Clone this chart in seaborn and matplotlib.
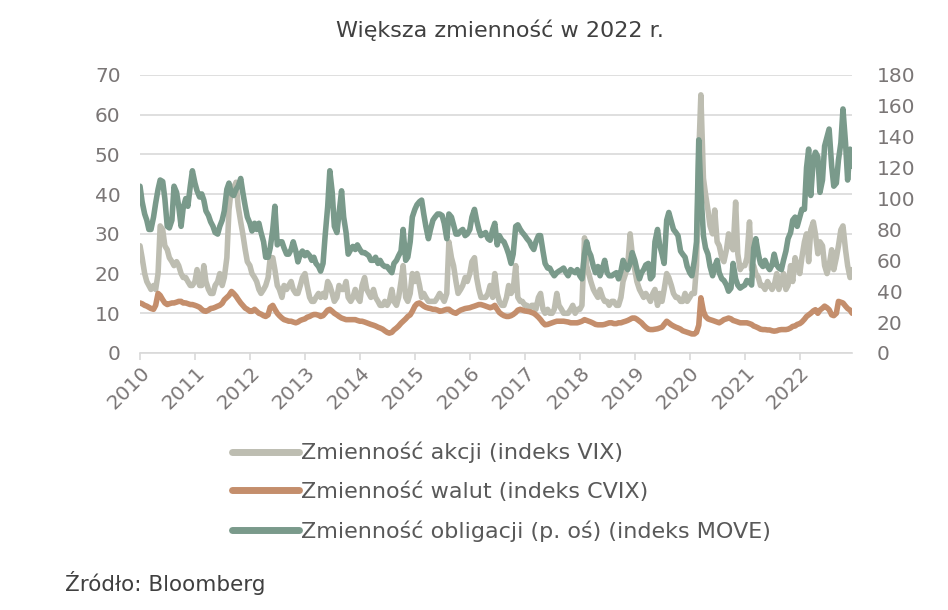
import pandas as pd
import seaborn as sns
import matplotlib.pyplot as plt
import matplotlib.dates as mdates
from matplotlib.lines import Line2D

# dane co pół miesiąca (1. i 15. dzień), 2010-2022
daty = pd.date_range('2010-01-01', '2022-12-31', freq='SMS')

vix = [
    27, 24, 20, 18, 17, 16, 17, 16, 20, 32, 31, 27, 26, 24, 23, 22, 23, 22, 20, 19, 19, 18, 17, 17,  # 2010
    18, 21, 17, 17, 22, 18, 16, 15, 15, 17, 18, 20, 17, 19, 24, 36, 42, 41, 43, 37, 33, 30, 26, 23,  # 2011
    22, 20, 19, 18, 16, 15, 16, 17, 19, 24, 24, 21, 17, 16, 14, 17, 16, 17, 18, 16, 15, 15, 17, 19,  # 2012
    20, 17, 14, 13, 13, 14, 15, 14, 15, 14, 18, 17, 15, 13, 14, 17, 16, 16, 18, 14, 13, 14, 16, 14,  # 2013
    13, 17, 19, 16, 15, 14, 16, 14, 13, 12, 12, 13, 12, 13, 16, 13, 12, 14, 18, 22, 14, 13, 15, 20,  # 2014
    18, 20, 17, 14, 15, 14, 13, 13, 13, 13, 14, 15, 14, 13, 15, 28, 24, 22, 18, 15, 16, 17, 19, 18,  # 2015
    20, 23, 24, 19, 16, 14, 14, 14, 15, 17, 14, 20, 15, 13, 12, 12, 14, 17, 15, 16, 22, 14, 13, 13,  # 2016
    12, 12, 11, 12, 12, 11, 14, 15, 11, 10, 11, 10, 10, 11, 15, 12, 11, 10, 10, 10, 11, 12, 10, 11,  # 2017
    11, 12, 29, 22, 20, 18, 16, 15, 14, 16, 14, 13, 13, 12, 13, 13, 12, 12, 14, 18, 20, 22, 30, 25,  # 2018
    21, 18, 16, 15, 14, 15, 14, 13, 15, 16, 12, 15, 13, 16, 20, 19, 17, 15, 14, 14, 13, 13, 15, 13,  # 2019
    14, 15, 15, 22, 50, 65, 44, 40, 36, 32, 30, 36, 28, 27, 24, 23, 26, 30, 27, 26, 38, 25, 21, 22,  # 2020
    22, 24, 33, 21, 22, 20, 19, 17, 17, 16, 18, 17, 16, 17, 20, 16, 18, 20, 16, 17, 22, 18, 24, 22,  # 2021
    20, 24, 28, 30, 23, 31, 33, 30, 25, 28, 27, 22, 20, 22, 26, 21, 24, 27, 31, 32, 26, 22, 19, 21,  # 2022
]

cvix = [
    12.6, 12.4, 12.0, 11.8, 11.5, 11.2, 11.0, 12.0, 15.0, 14.5, 13.4, 12.6, 12.2, 12.4, 12.6, 12.6, 12.8, 13.0, 13.0, 12.6, 12.6, 12.4, 12.2, 12.2,  # 2010
    12.0, 11.8, 11.5, 11.0, 10.6, 10.5, 10.8, 11.2, 11.3, 11.5, 11.8, 12.0, 12.5, 13.4, 14.0, 14.5, 15.5, 15.0, 14.3, 13.5, 12.6, 12.0, 11.3, 11.0,  # 2011
    10.5, 10.5, 11.0, 10.5, 10.0, 9.8, 9.4, 9.2, 9.6, 11.5, 12.0, 11.0, 10.0, 9.4, 8.8, 8.4, 8.2, 8.0, 8.0, 7.8, 7.6, 7.8, 8.2, 8.4,  # 2012
    8.6, 9.0, 9.2, 9.5, 9.7, 9.7, 9.5, 9.2, 9.4, 10.0, 10.8, 11.0, 10.5, 10.0, 9.6, 9.2, 8.8, 8.6, 8.4, 8.4, 8.4, 8.4, 8.4, 8.2,  # 2013
    8.0, 8.0, 7.8, 7.6, 7.4, 7.2, 7.0, 6.8, 6.5, 6.3, 6.0, 5.6, 5.2, 5.0, 5.2, 5.8, 6.3, 6.8, 7.5, 8.0, 8.6, 9.2, 9.6, 10.5,  # 2014
    11.8, 12.4, 12.6, 12.2, 11.8, 11.5, 11.3, 11.2, 11.0, 11.0, 10.8, 10.5, 10.6, 10.8, 11.0, 11.0, 10.5, 10.2, 10.0, 10.4, 10.8, 11.0, 11.2, 11.3,  # 2015
    11.4, 11.6, 11.8, 12.0, 12.2, 12.2, 12.0, 11.8, 11.6, 11.4, 11.6, 12.0, 11.0, 10.2, 9.7, 9.4, 9.2, 9.2, 9.4, 9.7, 10.2, 10.8, 11.0, 10.8,  # 2016
    10.6, 10.5, 10.4, 10.2, 10.0, 9.6, 9.0, 8.4, 7.6, 7.1, 7.2, 7.4, 7.6, 7.8, 8.0, 8.0, 8.0, 8.0, 7.9, 7.8, 7.6, 7.6, 7.6, 7.6,  # 2017
    7.8, 8.0, 8.4, 8.2, 8.0, 7.8, 7.5, 7.2, 7.1, 7.1, 7.1, 7.2, 7.4, 7.6, 7.6, 7.4, 7.4, 7.6, 7.6, 7.8, 8.0, 8.2, 8.5, 8.8,  # 2018
    8.8, 8.5, 8.0, 7.6, 7.0, 6.5, 6.0, 5.9, 5.9, 6.0, 6.1, 6.3, 6.5, 7.2, 8.0, 7.6, 7.1, 6.8, 6.5, 6.3, 6.0, 5.6, 5.4, 5.2,  # 2019
    5.0, 4.8, 4.8, 5.2, 7.0, 13.9, 10.5, 9.2, 8.6, 8.4, 8.2, 8.0, 7.8, 7.6, 8.0, 8.4, 8.6, 8.8, 8.6, 8.2, 8.0, 7.8, 7.6, 7.6,  # 2020
    7.6, 7.6, 7.4, 7.2, 6.8, 6.6, 6.3, 6.0, 5.9, 5.9, 5.8, 5.8, 5.6, 5.5, 5.6, 5.8, 5.9, 5.9, 5.9, 6.0, 6.3, 6.7, 6.8, 7.2,  # 2021
    7.4, 7.8, 8.5, 9.2, 9.6, 10.0, 10.6, 10.9, 10.0, 10.8, 11.3, 11.8, 11.4, 10.9, 9.6, 9.4, 10.0, 13.0, 12.8, 12.6, 11.8, 11.2, 10.8, 10.0,  # 2022
]

move = [
    108, 98, 90, 86, 80, 80, 88, 97, 106, 112, 111, 100, 82, 81, 86, 108, 104, 95, 82, 94, 100, 95, 108, 118,  # 2010
    110, 105, 101, 103, 99, 92, 89, 85, 82, 78, 77, 82, 86, 92, 106, 110, 103, 102, 106, 108, 113, 104, 95, 88,  # 2011
    84, 79, 84, 80, 84, 78, 72, 62, 62, 68, 80, 95, 70, 72, 72, 68, 64, 64, 67, 72, 66, 59, 64, 66,  # 2012
    63, 65, 63, 60, 62, 58, 56, 53, 58, 76, 95, 118, 104, 82, 78, 90, 105, 88, 78, 64, 67, 69, 67, 70,  # 2013
    67, 65, 65, 64, 63, 60, 60, 62, 58, 60, 57, 56, 56, 54, 52, 58, 60, 63, 66, 80, 60, 62, 72, 88,  # 2014
    93, 96, 98, 99, 90, 82, 74, 80, 86, 88, 90, 90, 89, 84, 74, 90, 88, 83, 77, 77, 79, 80, 76, 77,  # 2015
    80, 88, 93, 86, 80, 76, 77, 78, 74, 73, 80, 84, 70, 76, 73, 72, 68, 64, 58, 64, 82, 83, 80, 78,  # 2016
    76, 74, 72, 69, 67, 72, 76, 76, 66, 58, 55, 55, 52, 50, 52, 53, 54, 55, 52, 50, 54, 53, 52, 54,  # 2017
    50, 48, 64, 72, 66, 63, 56, 52, 56, 50, 55, 60, 52, 50, 50, 51, 52, 48, 53, 60, 56, 54, 58, 65,  # 2018
    60, 54, 48, 52, 54, 57, 58, 48, 50, 72, 80, 70, 64, 58, 86, 91, 85, 80, 78, 76, 66, 64, 62, 56,  # 2019
    52, 50, 60, 72, 138, 105, 76, 68, 64, 56, 50, 56, 60, 52, 48, 47, 44, 40, 42, 58, 48, 44, 42, 43,  # 2020
    44, 47, 46, 44, 68, 74, 64, 58, 56, 60, 56, 54, 57, 64, 57, 55, 54, 60, 66, 74, 78, 86, 88, 82,  # 2021
    88, 93, 93, 120, 132, 102, 125, 130, 127, 104, 112, 134, 140, 145, 121, 108, 110, 125, 136, 158, 136, 112, 132, 121,  # 2022
]

etykiety = ['Zmienność akcji (indeks VIX)',
            'Zmienność walut (indeks CVIX)',
            'Zmienność obligacji (p. oś) (indeks MOVE)']
kolory = ['#bdbdb1', '#c48e6c', '#7a9a8b']

df = pd.DataFrame({'data': daty, 'vix': vix, 'cvix': cvix, 'move': move})

sns.set_theme(style='white')
plt.rcParams['font.family'] = ['DejaVu Sans']

szary = '#7a7676'
siatka = '#d9d9d9'

fig = plt.figure(figsize=(9.48, 6.1), dpi=100)
ax = fig.add_axes([140 / 948, 1 - 353 / 610, 712 / 948, 278 / 610])
ax2 = ax.twinx()

sns.lineplot(data=df, x='data', y='vix', ax=ax, color=kolory[0], lw=4)
sns.lineplot(data=df, x='data', y='cvix', ax=ax, color=kolory[1], lw=4)
sns.lineplot(data=df, x='data', y='move', ax=ax2, color=kolory[2], lw=4)

ax.set_xlim(pd.Timestamp('2010-01-01'), pd.Timestamp('2022-12-14'))
ax.set_ylim(0, 70)
ax.set_yticks(range(0, 71, 10))
ax2.set_ylim(0, 180)
ax2.set_yticks(range(0, 181, 20))

ax.grid(axis='y', color=siatka, lw=1.2)
ax.set_axisbelow(True)
for a in (ax, ax2):
    a.set_xlabel('')
    a.set_ylabel('')
    for s in ['top', 'left', 'right', 'bottom']:
        a.spines[s].set_visible(False)
ax.spines['bottom'].set_visible(True)
ax.spines['bottom'].set_color(siatka)
ax.spines['bottom'].set_linewidth(1.2)

ax.xaxis.set_major_locator(mdates.YearLocator())
ax.xaxis.set_major_formatter(mdates.DateFormatter('%Y'))
ax.tick_params(axis='x', bottom=True, length=5, width=1.2, color=siatka,
               pad=2, labelsize=14.5, labelcolor=szary)
for t in ax.get_xticklabels():
    t.set_rotation(45)
    t.set_ha('right')
    t.set_rotation_mode('anchor')
ax.tick_params(axis='y', length=0, pad=14, labelsize=14.5, labelcolor=szary)
ax2.tick_params(axis='y', length=0, pad=18, labelsize=14.5, labelcolor=szary)

fig.text(500 / 948, 1 - 30 / 610, 'Większa zmienność w 2022 r.', ha='center', va='center',
         fontsize=16, color='#404040')

uchwyty = [Line2D([], [], color=c, lw=5, solid_capstyle='round') for c in kolory]
fig.legend(uchwyty, etykiety, loc='upper left', bbox_to_anchor=(223 / 948, 1 - 433 / 610),
           frameon=False, fontsize=16, handlelength=3.0, handletextpad=0.12,
           labelspacing=0.82, labelcolor='#595959', borderaxespad=0)

fig.text(65 / 948, 1 - 583 / 610, 'Źródło: Bloomberg', ha='left', va='center',
         fontsize=15.5, color='#404040')

fig.savefig('out.png', dpi=100)
